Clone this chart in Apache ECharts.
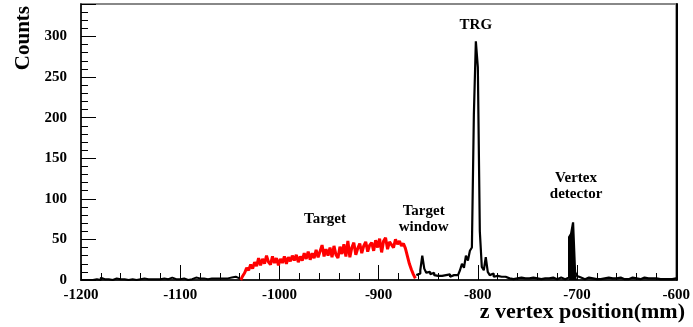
<!DOCTYPE html>
<html><head><meta charset="utf-8">
<script src="https://cdn.jsdelivr.net/npm/echarts@6/dist/echarts.min.js"></script>
<style>html,body{margin:0;padding:0;background:#fff}#c{width:693px;height:327px}</style>
</head><body><div id="c"></div>
<script>
// histogram bins of 2 mm
const binWidth = 2;
const leftStart = -1200;   // black, upstream noise
const blackLeft = [
  0,0,1,0,0,0,2,1,0,0, 3,1,0,1,0,0,1,2,0,1,
  0,1,1,0,2,1,0,0,1,1, 0,2,1,1,0,1,2,1,0,1,
  1,2,0,1,1,3,1,1,2,1, 1,2,1,0,2,1,1,3,1,2,
  1,2,2,1,3,2,1,2,3,2, 1,2,3,2,1,3,2,4,3,2
];
const redStart = -1040;    // target region (red)
const redTarget = [
  0,5,9,15,12,19,14,22,17,27,
  18,26,20,30,22,19,29,21,27,18,
  26,21,29,20,28,23,30,24,31,22,
  29,24,33,26,35,25,33,27,37,28,
  26,43,29,38,30,40,28,42,31,27,
  41,32,44,29,48,28,40,46,31,39,
  45,33,42,47,35,43,46,36,49,40,
  51,34,48,52,38,47,49,40,50,44,
  48,42,45,39,37,20,13,7,2
];
const rightStart = -862;   // window, TRG, vertex detector
const blackRight = [
  6,8,12,30,14,9,10,7,9,6,
  5,7,5,4,6,5,7,4,6,5,
  6,8,12,20,15,30,24,36,40,204,
  294,262,60,16,12,28,10,6,8,4,
  5,3,4,2,4,3,2,4,1,3,
  2,2,3,1,2,3,2,1,3,2,
  2,3,1,2,2,4,2,1,3,2,
  1,2,3,2,1,2,3,
  53,57,71,10,5,
  3,2,1,2,3,1,2,2,
  1,3,1,2,2,1,3,1,2,1,
  2,2,3,1,1,2,1,2,3,1,
  2,1,1,2,3,1,2,1,2,1,
  2,1,1,2,1,2,1,2,1,1,2
];
const vertexRange = [-708, -700];
const xTicks = [-1200, -1100, -1000, -900, -800, -700, -600];
const yTicks = [0, 50, 100, 150, 200, 250, 300];
const annotations = [
  {name: 'TRG', x: -802, y: 314},
  {name: 'Target', x: -954, y: 74.5},
  {name: 'Target\nwindow', x: -854.6, y: 74.5},
  {name: 'Vertex\ndetector', x: -701, y: 115.6}
];

function toSteps(start, vals) {
  const pts = vals.map((v, i) => [start + i * binWidth, v]);
  pts.push([start + vals.length * binWidth, vals[vals.length - 1]]);
  return pts;
}
function toCenters(start, vals) {
  return vals.map((v, i) => [start + (i + 0.5) * binWidth, v]);
}
const vertexPts = [];
blackRight.forEach((v, i) => {
  const e = rightStart + i * binWidth;
  if (e >= vertexRange[0] && e < vertexRange[1]) vertexPts.push([e, v]);
});
vertexPts.push([vertexRange[1], vertexPts[vertexPts.length - 1][1]]);

const FONT = 'Liberation Serif';
const chart = echarts.init(document.getElementById('c'), null, {renderer: 'canvas'});
chart.setOption({
  animation: false,
  grid: {left: 81, right: 13, top: 4, bottom: 47, show: true, borderColor: '#888', borderWidth: 2, backgroundColor: 'transparent'},
  xAxis: [{
    type: 'value', min: -1200, max: -600, interval: 100,
    axisLine: {show: true, onZero: false, lineStyle: {color: '#000', width: 1.5}},
    axisTick: {show: true, inside: true, length: 15, lineStyle: {color: '#000', width: 1}},
    minorTick: {show: true, splitNumber: 5, length: 7, lineStyle: {color: '#000', width: 1}},
    splitLine: {show: false},
    axisLabel: {color: '#000', fontFamily: FONT, fontWeight: 'bold', fontSize: 15, margin: 8,
      formatter: v => xTicks.includes(v) ? String(v) : ''}
  }],
  yAxis: [{
    type: 'value', min: 0, max: 340, interval: 50,
    axisLine: {show: true, onZero: false, lineStyle: {color: '#000', width: 1.5}},
    axisTick: {show: true, inside: true, length: 15, lineStyle: {color: '#000', width: 1}},
    minorTick: {show: true, splitNumber: 5, length: 7, lineStyle: {color: '#000', width: 1}},
    splitLine: {show: false},
    axisLabel: {color: '#000', fontFamily: FONT, fontWeight: 'bold', fontSize: 15, margin: 14,
      formatter: v => yTicks.includes(v) ? String(v) : ''}
  }, {
    type: 'value', position: 'right', min: 0, max: 340,
    axisLine: {show: true, onZero: false, lineStyle: {color: '#000', width: 2}},
    axisTick: {show: false}, axisLabel: {show: false}, splitLine: {show: false}
  }],
  series: [
    {type: 'line', data: toSteps(leftStart, blackLeft), step: 'end', symbol: 'none',
      lineStyle: {color: '#000', width: 2}},
    {type: 'line', data: toCenters(redStart, redTarget), symbol: 'none',
      lineStyle: {color: '#ff0000', width: 3}, z: 3},
    {type: 'line', data: toSteps(rightStart, blackRight), step: 'end', symbol: 'none',
      lineStyle: {color: '#000', width: 2.2},
      markPoint: {
        symbol: 'circle', symbolSize: 0,
        label: {show: true, position: 'inside', formatter: '{b}', color: '#000',
          fontFamily: FONT, fontWeight: 'bold', fontSize: 15, lineHeight: 16, align: 'center'},
        data: annotations.map(a => ({name: a.name, coord: [a.x, a.y]}))
      }},
    {type: 'line', data: vertexPts, step: 'end', symbol: 'none',
      lineStyle: {width: 0}, areaStyle: {color: '#000', opacity: 1}}
  ],
  graphic: [
    {type: 'text', left: 13, top: 6,
      rotation: Math.PI / 2,
      style: {text: 'Counts', font: 'bold 21px "Liberation Serif"', fill: '#000'}},
    {type: 'text', right: 8, top: 301,
      style: {text: 'z vertex position(mm)', font: 'bold 22px "Liberation Serif"', fill: '#000'}}
  ]
});
</script></body></html>
